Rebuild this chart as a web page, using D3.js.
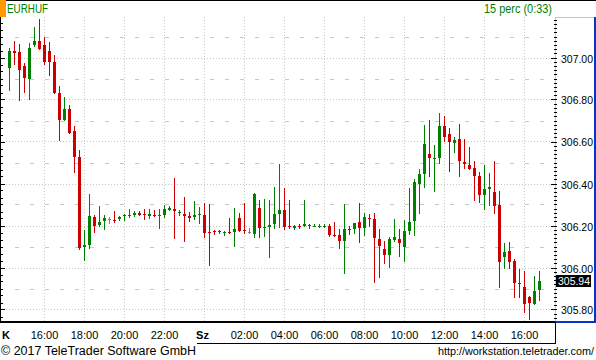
<!DOCTYPE html>
<html><head><meta charset="utf-8">
<script src="https://cdn.jsdelivr.net/npm/d3@7"></script>
<style>html,body{margin:0;padding:0;background:#fff}svg{display:block}text{font-family:"Liberation Sans",Arial,sans-serif}</style>
</head><body><svg id="c" width="596" height="360"></svg>
<script>
const symbol = "EURHUF";
const periodLabel = "15 perc (0:33)";
const lastPrice = "305.94";
const copyright = "\u00A9 2017 TeleTrader Software GmbH";
const url = "http://workstation.teletrader.com/";
const startTime = new Date(2017, 0, 3, 14, 15);
const open = [306.951,307.030,307.028,306.959,306.897,307.059,307.078,307.059,307.030,306.978,
306.830,306.702,306.754,306.649,306.525,306.097,306.106,306.240,306.202,306.221,
306.230,306.225,306.230,306.244,306.244,306.249,306.259,306.254,306.244,306.249,
306.246,306.249,306.273,306.278,306.259,306.254,306.244,306.240,306.249,306.249,
306.171,306.173,306.173,306.164,306.168,306.168,306.235,306.178,306.168,306.159,
306.283,306.187,306.192,306.206,306.254,306.273,306.197,306.187,306.197,306.197,
306.202,306.195,306.195,306.194,306.197,306.155,306.154,306.127,306.184,306.183,
306.216,306.189,306.236,306.230,306.136,306.089,306.060,306.132,306.136,306.098,
306.173,306.222,306.398,306.446,306.540,306.517,306.522,306.673,306.635,306.593,
306.611,306.502,306.487,306.473,306.435,306.346,306.374,306.359,306.298,306.051,
306.079,306.032,305.927,305.908,305.860,305.827,305.894];
const high = [307.043,307.078,307.063,306.973,307.068,307.144,307.182,307.097,307.073,307.011,
306.863,306.811,306.773,306.673,306.559,306.178,306.349,306.249,306.292,306.249,
306.240,306.268,306.244,306.254,306.278,306.268,306.268,306.278,306.278,306.273,
306.278,306.297,306.292,306.425,306.273,306.335,306.264,306.316,306.287,306.306,
306.302,306.178,306.178,306.173,306.235,306.283,306.259,306.306,306.187,306.354,
306.321,306.325,306.321,306.383,306.492,306.378,306.321,306.202,306.206,306.321,
306.206,306.206,306.206,306.206,306.206,306.216,306.183,306.302,306.197,306.211,
306.306,306.259,306.254,306.259,306.184,306.127,306.144,306.230,306.183,306.225,
306.379,306.421,306.468,306.678,306.702,306.583,306.735,306.721,306.663,306.621,
306.682,306.611,306.573,306.506,306.454,306.487,306.449,306.506,306.363,306.117,
306.121,306.041,305.994,305.984,305.865,305.959,305.984];
const low = [306.840,306.963,306.792,306.830,306.798,307.049,307.035,306.963,306.911,306.825,
306.602,306.700,306.635,306.449,306.083,306.030,306.087,306.164,306.192,306.178,
306.206,306.211,306.221,306.221,306.235,306.240,306.244,306.225,306.230,306.240,
306.183,306.235,306.268,306.135,306.244,306.121,306.216,306.225,306.206,306.140,
306.006,306.154,306.159,306.149,306.159,306.097,306.168,306.159,306.159,306.140,
306.140,306.144,306.044,306.183,306.187,306.178,306.183,306.178,306.183,306.192,
306.183,306.192,306.187,306.187,306.146,306.144,306.089,305.968,306.155,306.160,
306.117,306.151,306.192,305.927,305.951,306.017,305.998,306.122,306.051,306.027,
306.154,306.151,306.255,306.379,306.429,306.360,306.492,306.598,306.455,306.546,
306.432,306.470,306.465,306.317,306.308,306.273,306.294,306.255,305.903,305.994,
305.994,305.855,305.855,305.784,305.751,305.822,305.841];
const close = [307.030,307.022,306.940,306.902,307.044,307.078,307.040,306.978,306.978,306.830,
306.702,306.754,306.640,306.525,306.093,306.106,306.244,306.197,306.216,306.235,
306.230,306.221,306.240,306.249,306.249,306.259,306.249,306.249,306.254,306.244,
306.249,306.278,306.283,306.268,306.264,306.244,306.235,306.249,306.254,306.164,
306.165,306.168,306.168,306.168,306.164,306.183,306.173,306.173,306.168,306.349,
306.187,306.192,306.202,306.254,306.273,306.192,306.192,306.197,306.192,306.206,
306.197,306.197,306.200,306.200,306.155,306.149,306.127,306.183,306.179,306.211,
306.189,306.240,306.232,306.141,306.103,306.060,306.136,306.144,306.117,306.173,
306.217,306.406,306.444,306.587,306.522,306.522,306.673,306.622,306.598,306.606,
306.508,306.492,306.470,306.436,306.346,306.373,306.384,306.294,306.027,306.074,
306.027,305.927,305.922,305.827,305.832,305.889,305.936];
const xTickHours = [14,16,18,20,22,24,26,28,30,32,34,36,38,40];
const xTickLabels = ["K","16:00","18:00","20:00","22:00","Sz","02:00","04:00","06:00","08:00","10:00","12:00","14:00","16:00"];
const yTickValues = [305.8,306.0,306.2,306.4,306.6,306.8,307.0];
const yTickLabels = ["305.80","306.00","306.20","306.40","306.60","306.80","307.00"];

const GREEN = "#008000", RED = "#cc0000", GRAY = "#808080", GRID = "#c8c8c8";
const svg = d3.select("#c");
const W = 596, H = 360, plotL = 0, plotR = 555, plotT = 17, plotB = 322;
const day0 = new Date(2017, 0, 3, 0, 0);
const times = open.map((d, i) => d3.timeMinute.offset(startTime, 15 * i));
const x = d3.scaleTime()
  .domain([d3.timeHour.offset(day0, 14), d3.timeHour.offset(day0, 16)])
  .range([4.5, 44.5]);
const y = d3.scaleLinear().domain([306, 307]).range([267.5, 57.5]);

svg.append("rect").attr("width", W).attr("height", H).attr("fill", "#fff");
svg.append("defs").append("clipPath").attr("id", "pc").append("rect")
  .attr("x", 1).attr("y", plotT).attr("width", plotR - 1).attr("height", plotB - plotT);
const g = svg.append("g").attr("clip-path", "url(#pc)");

// grid
g.selectAll("line.vg").data(xTickHours.slice(1)).join("line")
  .attr("x1", h => x(d3.timeHour.offset(day0, h))).attr("x2", h => x(d3.timeHour.offset(day0, h)))
  .attr("y1", plotT).attr("y2", plotB).attr("stroke", GRID).attr("stroke-dasharray", "1,2");
g.selectAll("line.hg").data(yTickValues).join("line")
  .attr("x1", plotL).attr("x2", plotR).attr("y1", d => Math.round(y(d)) + 0.5).attr("y2", d => Math.round(y(d)) + 0.5)
  .attr("stroke", GRID).attr("stroke-dasharray", "1,2");
const minor = d3.range(305.7, 307.2, 0.2);
g.selectAll("line.mg").data(minor).join("line")
  .attr("x1", 15).attr("x2", plotR).attr("y1", d => Math.round(y(d)) + 0.5).attr("y2", d => Math.round(y(d)) + 0.5)
  .attr("stroke", GRID).attr("stroke-dasharray", "4,11");

// candles
const data = open.map((o, i) => ({t: times[i], o, h: high[i], l: low[i], c: close[i]}));
const col = d => d.c > d.o ? GREEN : d.c < d.o ? RED : GRAY;
const cg = g.append("g");
cg.selectAll("rect.w").data(data).join("rect")
  .attr("x", d => Math.floor(x(d.t))).attr("width", 1)
  .attr("y", d => Math.round(y(d.h))).attr("height", d => Math.max(1, Math.round(y(d.l)) - Math.round(y(d.h))))
  .attr("fill", col);
cg.selectAll("rect.b").data(data).join("rect")
  .attr("x", d => Math.floor(x(d.t)) - 1).attr("width", 3)
  .attr("y", d => Math.round(y(Math.max(d.o, d.c))))
  .attr("height", d => Math.max(1, Math.round(y(Math.min(d.o, d.c))) - Math.round(y(Math.max(d.o, d.c)))))
  .attr("fill", col);

// left axis
svg.append("line").attr("x1", 0.5).attr("x2", 0.5).attr("y1", plotT).attr("y2", plotB).attr("stroke", "#000");
const lt = d3.range(0, 46).map(k => 305.7 + k / 30).filter(v => y(v) >= plotT && y(v) <= plotB);
svg.selectAll("line.lt").data(lt).join("line")
  .attr("x1", 0).attr("x2", (v, i) => (Math.abs(v * 5 - Math.round(v * 5)) < 1e-6 ? 5 : 3))
  .attr("y1", v => Math.round(y(v)) + 0.5).attr("y2", v => Math.round(y(v)) + 0.5).attr("stroke", "#000");

// right axis
svg.append("line").attr("x1", 555.5).attr("x2", 555.5).attr("y1", plotT).attr("y2", plotB).attr("stroke", "#f2c64b");
svg.append("line").attr("x1", 555).attr("x2", 595).attr("y1", 17.5).attr("y2", 17.5).attr("stroke", "#f2c64b");
svg.append("line").attr("x1", 595).attr("x2", 595).attr("y1", 17).attr("y2", 323).attr("stroke", "#0a32c8").attr("stroke-width", 2);
svg.append("line").attr("x1", 555).attr("x2", 596).attr("y1", 322).attr("y2", 322).attr("stroke", "#0a32c8").attr("stroke-width", 2);
const rt = d3.range(0, 80).map(k => 305.7 + k * 0.02).filter(v => y(v) >= plotT + 2 && y(v) <= plotB - 1);
svg.selectAll("line.rt").data(rt).join("line")
  .attr("x1", v => (Math.abs(v * 5 - Math.round(v * 5)) < 1e-6 ? 551 : 554)).attr("x2", 557)
  .attr("y1", v => Math.round(y(v)) + 0.5).attr("y2", v => Math.round(y(v)) + 0.5).attr("stroke", "#000");
svg.selectAll("text.yl").data(yTickValues).join("text")
  .attr("x", 561).attr("y", (v) => Math.round(y(v)) + 4.5).attr("font-size", 11).attr("fill", "#000")
  .attr("textLength", 32).attr("lengthAdjust", "spacingAndGlyphs")
  .text((v, i) => yTickLabels[i]);
const lp = close[close.length - 1];
svg.append("rect").attr("x", 556).attr("y", Math.round(y(lp)) - 6).attr("width", 35).attr("height", 12).attr("fill", "#000");
svg.append("text").attr("x", 558).attr("y", Math.round(y(lp)) + 4).attr("font-size", 11).attr("fill", "#fff")
  .attr("textLength", 32).attr("lengthAdjust", "spacingAndGlyphs").text(lastPrice);

// bottom axis
svg.append("line").attr("x1", 0).attr("x2", 555).attr("y1", 322).attr("y2", 322).attr("stroke", "#000").attr("stroke-width", 2);
svg.selectAll("text.xl").data(xTickHours).join("text")
  .attr("x", (h, i) => i === 0 ? 2 : x(d3.timeHour.offset(day0, h)) - (i === 5 ? 2 : 0))
  .attr("y", 339).attr("text-anchor", (h, i) => i === 0 ? "start" : "middle")
  .attr("font-size", 11).attr("font-weight", (h, i) => (i === 0 || i === 5) ? "bold" : "normal")
  .attr("fill", "#000").text((h, i) => xTickLabels[i]);
svg.append("line").attr("x1", 555.5).attr("x2", 555.5).attr("y1", 322).attr("y2", 344).attr("stroke", "#000");
svg.append("line").attr("x1", 197).attr("x2", 556).attr("y1", 343.5).attr("y2", 343.5).attr("stroke", "#000");

// header
svg.append("line").attr("x1", 0).attr("x2", W).attr("y1", 0.5).attr("y2", 0.5).attr("stroke", "#000");
svg.append("rect").attr("x", 0).attr("y", 0).attr("width", 6).attr("height", 17).attr("fill", "#ff9900");
svg.append("text").attr("x", 7).attr("y", 13).attr("font-size", 12).attr("fill", GREEN)
  .attr("textLength", 41).attr("lengthAdjust", "spacingAndGlyphs").text(symbol);
svg.append("text").attr("x", 484).attr("y", 13).attr("font-size", 12).attr("fill", GREEN)
  .attr("textLength", 68).attr("lengthAdjust", "spacingAndGlyphs").text(periodLabel);

// footer
svg.append("text").attr("x", 1).attr("y", 355).attr("font-size", 12).attr("fill", "#000")
  .attr("textLength", 195).attr("lengthAdjust", "spacingAndGlyphs").text(copyright);
svg.append("text").attr("x", 594).attr("y", 355).attr("font-size", 10.8).attr("fill", "#000")
  .attr("text-anchor", "end").text(url);
</script></body></html>
